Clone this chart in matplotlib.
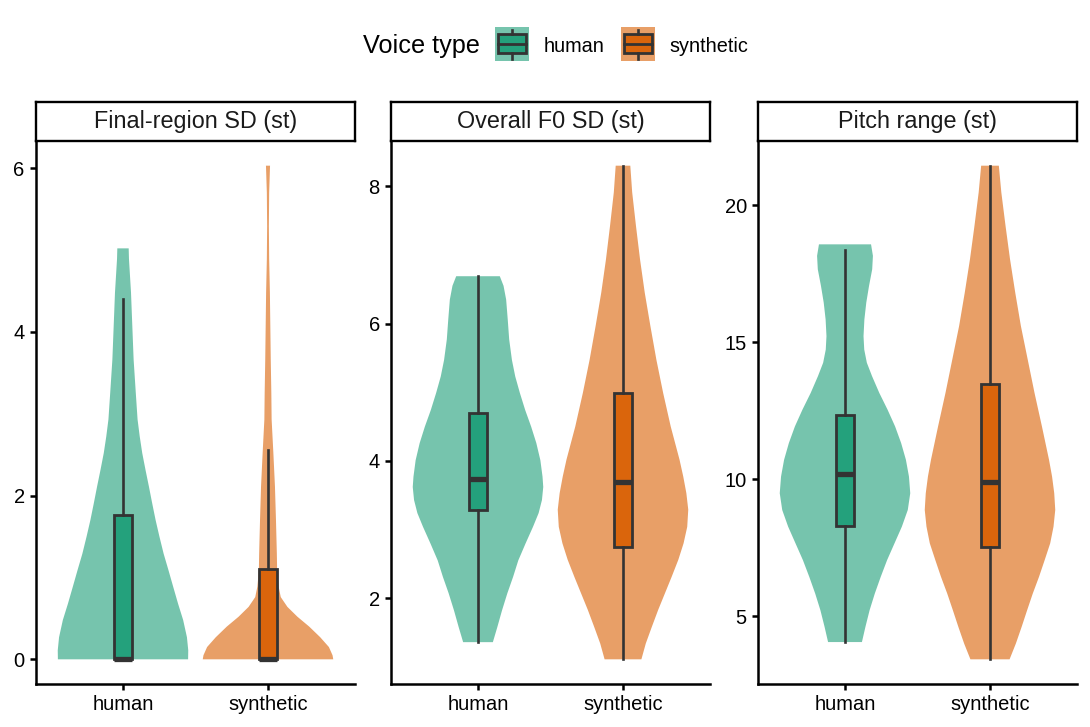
import numpy as np
import matplotlib.pyplot as plt
from matplotlib.patches import Rectangle
from matplotlib.colors import to_rgba

plt.rcParams['font.family'] = ['Liberation Sans', 'DejaVu Sans']

# facets and groups
panels = ["Final-region SD (st)", "Overall F0 SD (st)", "Pitch range (st)"]
groups = ["human", "synthetic"]
colors = ["#1B9E77", "#D95F02"]   # Dark2

# violin outlines: y value and relative half width
final_human_y = [0, 0.11, 0.27, 0.48, 0.68, 0.89, 1.09, 1.29, 1.50, 1.70, 1.91, 2.11, 2.31, 2.52,
                 2.72, 2.93, 3.25, 3.66, 4.07, 4.48, 4.89, 5.02]
final_human_w = [0.447, 0.448, 0.439, 0.413, 0.378, 0.344, 0.312, 0.279, 0.250, 0.224, 0.200, 0.178,
                 0.155, 0.132, 0.115, 0.100, 0.088, 0.073, 0.064, 0.055, 0.041, 0.039]
final_synth_y = [0, 0.05, 0.15, 0.27, 0.40, 0.52, 0.64, 0.76, 0.89, 1.09, 1.29, 1.70, 2.11, 2.52,
                 2.93, 3.25, 3.66, 4.07, 4.48, 4.89, 5.29, 5.70, 6.03]
final_synth_w = [0.450, 0.445, 0.420, 0.360, 0.284, 0.203, 0.134, 0.088, 0.073, 0.063, 0.061, 0.055,
                 0.048, 0.037, 0.025, 0.023, 0.019, 0.016, 0.013, 0.008, 0.006, 0.008, 0.014]

f0_human_y = [1.36, 1.58, 1.82, 2.07, 2.31, 2.55, 2.80, 3.04, 3.24, 3.43, 3.62, 3.77, 4.01, 4.26,
              4.50, 4.74, 4.99, 5.23, 5.47, 5.77, 6.06, 6.35, 6.55, 6.69]
f0_human_w = [0.103, 0.134, 0.166, 0.203, 0.243, 0.279, 0.330, 0.381, 0.420, 0.443, 0.452, 0.447,
              0.432, 0.404, 0.368, 0.327, 0.290, 0.258, 0.235, 0.216, 0.206, 0.195, 0.177, 0.151]
f0_synth_y = [1.11, 1.34, 1.58, 1.83, 2.07, 2.31, 2.56, 2.80, 3.04, 3.29, 3.53, 3.77, 4.02, 4.50,
              4.99, 5.47, 5.96, 6.45, 6.93, 7.42, 7.91, 8.30]
f0_synth_w = [0.126, 0.156, 0.197, 0.241, 0.287, 0.333, 0.379, 0.415, 0.440, 0.447, 0.434, 0.413,
              0.387, 0.327, 0.275, 0.229, 0.188, 0.149, 0.117, 0.089, 0.063, 0.050]

range_human_y = [4.06, 4.61, 5.22, 5.83, 6.44, 7.05, 7.66, 8.27, 8.88, 9.49, 10.10, 10.71, 11.32,
                 11.93, 12.54, 13.15, 13.76, 14.25, 14.73, 15.22, 15.83, 16.44, 17.05, 17.66,
                 18.15, 18.57]
range_human_w = [0.117, 0.141, 0.170, 0.206, 0.247, 0.291, 0.342, 0.393, 0.434, 0.451, 0.442,
                 0.421, 0.388, 0.346, 0.294, 0.237, 0.187, 0.151, 0.133, 0.128, 0.134, 0.147,
                 0.166, 0.188, 0.193, 0.180]
range_synth_y = [3.43, 4.00, 4.61, 5.22, 5.83, 6.44, 7.05, 7.66, 8.27, 8.88, 9.49, 10.10, 10.71,
                 11.93, 13.15, 14.37, 15.59, 16.81, 18.03, 19.25, 20.47, 21.44]
range_synth_w = [0.135, 0.178, 0.218, 0.256, 0.295, 0.338, 0.377, 0.415, 0.438, 0.450, 0.443,
                 0.428, 0.407, 0.358, 0.307, 0.260, 0.213, 0.174, 0.138, 0.107, 0.078, 0.061]

# box stats: whisker low, q1, median, q3, whisker high
final_box = [[0, 0, 0, 1.76, 4.40], [0, 0, 0, 1.10, 2.56]]
f0_box = [[1.36, 3.28, 3.74, 4.70, 6.69], [1.11, 2.75, 3.69, 4.99, 8.30]]
range_box = [[4.06, 8.31, 10.18, 12.35, 18.37], [3.43, 7.51, 9.89, 13.49, 21.44]]

y_ticks = [[0, 2, 4, 6], [2, 4, 6, 8], [5, 10, 15, 20]]

violins = [
    [(final_human_y, final_human_w), (final_synth_y, final_synth_w)],
    [(f0_human_y, f0_human_w), (f0_synth_y, f0_synth_w)],
    [(range_human_y, range_human_w), (range_synth_y, range_synth_w)],
]
boxes = [final_box, f0_box, range_box]

LINE = "#333333"
W, H = 1090, 727
fig = plt.figure(figsize=(W / 100, H / 100), dpi=100)


def px_axes(left, top, width, height):
    return fig.add_axes([left / W, 1 - (top + height) / H, width / W, height / H])


panel_left = [36, 391, 758]
pos = [1, 2]

for i, title in enumerate(panels):
    ax = px_axes(panel_left[i], 141, 319, 543)

    vp = []
    for y, w in violins[i]:
        y = np.array(y)
        vp.append(dict(coords=y, vals=np.array(w), mean=y.mean(), median=np.median(y),
                       min=y.min(), max=y.max()))
    # vals are normalised per violin, so widths=2*max half width keeps the read widths
    parts = ax.violin(vp, positions=pos, widths=0.9, showextrema=False)
    for body, c in zip(parts['bodies'], colors):
        body.set_facecolor(c)
        body.set_alpha(0.6)
        body.set_edgecolor('none')
        body.set_linewidth(0)

    bstats = [dict(whislo=b[0], q1=b[1], med=b[2], q3=b[3], whishi=b[4], fliers=[])
              for b in boxes[i]]
    bp = ax.bxp(bstats, positions=pos, widths=0.12, patch_artist=True,
                showcaps=False, showfliers=False, manage_ticks=False,
                boxprops=dict(edgecolor=LINE, linewidth=2.0),
                whiskerprops=dict(color=LINE, linewidth=1.9),
                medianprops=dict(color=LINE, linewidth=3.8, solid_capstyle='butt'))
    for patch, c in zip(bp['boxes'], colors):
        patch.set_facecolor(to_rgba(c, 0.9))

    lo = min(min(y) for y, _ in violins[i])
    hi = max(max(y) for y, _ in violins[i])
    pad = (hi - lo) * 0.05
    ax.set_ylim(lo - pad, hi + pad)
    ax.set_xlim(0.4, 2.6)
    ax.set_xticks(pos)
    ax.set_xticklabels(groups)
    ax.set_yticks(y_ticks[i])
    for s in ['top', 'right']:
        ax.spines[s].set_visible(False)
    for s in ['left', 'bottom']:
        ax.spines[s].set_linewidth(1.8)
    ax.tick_params(direction='out', length=4.6, width=1.8, labelsize=14.5, pad=3.5,
                   colors='black')

    sax = px_axes(panel_left[i], 102, 319, 39)
    sax.set_xticks([])
    sax.set_yticks([])
    for s in sax.spines.values():
        s.set_linewidth(1.7)
    sax.text(0.5, 0.5, title, ha='center', va='center', fontsize=16.8,
             color='#1a1a1a', transform=sax.transAxes)

# legend drawn in pixel space on top
lax = fig.add_axes([0, 0, 1, 1])
lax.set_xlim(0, W)
lax.set_ylim(H, 0)
lax.axis('off')
lax.text(363, 52.5, "Voice type", fontsize=18.2, ha='left', va='baseline')
key_x = [495, 621]
for g, c, kx in zip(groups, colors, key_x):
    lax.add_patch(Rectangle((kx, 27), 34, 34, facecolor=c, alpha=0.6, edgecolor='none'))
    lax.add_patch(Rectangle((kx + 3, 34.3), 28, 19, facecolor=to_rgba(c, 0.9),
                            edgecolor=LINE, linewidth=2.0))
    lax.plot([kx + 3, kx + 31], [44, 44], color=LINE, linewidth=2.0)
    lax.plot([kx + 17, kx + 17], [29.5, 34.3], color=LINE, linewidth=1.9)
    lax.plot([kx + 17, kx + 17], [53.3, 58.5], color=LINE, linewidth=1.9)
    lax.text(kx + 48.5, 51.5, g, fontsize=14.3, ha='left', va='baseline')

fig.savefig("out.png", dpi=100)
